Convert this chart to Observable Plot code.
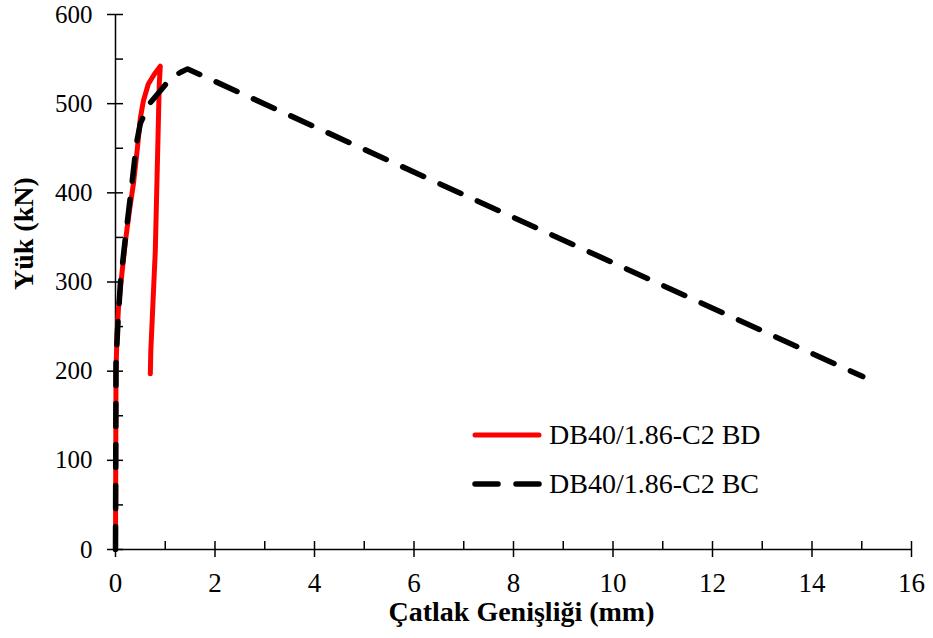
<!DOCTYPE html>
<html>
<head>
<meta charset="utf-8">
<script src="https://cdn.jsdelivr.net/npm/d3@7"></script>
<script src="https://cdn.jsdelivr.net/npm/@observablehq/plot@0.6"></script>
<style>
  html, body { margin: 0; padding: 0; background: #fff; }
  #wrap { position: relative; width: 933px; height: 638px; font-family: 'Liberation Serif', 'Times New Roman', serif; }
  #legend { position: absolute; left: 472px; top: 420px; font-size: 28px; color: #000; line-height: 1; }
  .row { display: flex; align-items: center; height: 30px; margin-bottom: 19px; }
  .row svg { width: 70px; height: 12px; margin-right: 7px; }
</style>
</head>
<body>
<div id="wrap"><div id="legend"></div></div>
<script>
// Series names and colours
const seriesNames = ["DB40/1.86-C2 BD", "DB40/1.86-C2 BC"];
const seriesColors = ["#ff0000", "#000000"];

// Crack width (mm) and load (kN) for each series
const bdWidth = [0, 0.005, 0.01, 0.03, 0.06, 0.13, 0.2, 0.28, 0.36, 0.44, 0.5, 0.56, 0.66, 0.78, 0.9, 0.88, 0.8, 0.71, 0.70];
const bdLoad  = [0, 100, 200, 240, 271, 310, 346, 380, 410, 450, 484, 503, 522, 533, 542, 522, 335, 223, 197];

const bcWidth = [0, 0.01, 0.05, 0.1, 0.2, 0.33, 0.42, 0.5, 0.6, 0.7, 0.94, 1.1, 1.3, 1.45, 15.02];
const bcLoad  = [0, 210, 255, 300, 350, 410, 455, 478, 490, 501, 517, 528, 535, 539, 194];

// Axis ticks and labels
const xMajor = [0, 2, 4, 6, 8, 10, 12, 14, 16];
const xMinor = d3.range(0, 17, 1);
const yMajor = [0, 100, 200, 300, 400, 500, 600];
const yMinor = d3.range(0, 601, 50);
const xTitle = "Çatlak Genişliği (mm)";
const yTitle = "Yük (kN)";

const bd = bdWidth.map((w, i) => ({w, p: bdLoad[i]}));
const bc = bcWidth.map((w, i) => ({w, p: bcLoad[i]}));

const chart = Plot.plot({
  width: 933,
  height: 638,
  marginLeft: 115,
  marginRight: 22,
  marginTop: 14,
  marginBottom: 89,
  style: {fontFamily: "'Liberation Serif', 'Times New Roman', serif", color: "#000", background: "#fff", overflow: "visible"},
  x: {domain: [0, 16]},
  y: {domain: [0, 600]},
  marks: [
    Plot.axisX(xMinor, {tickSize: -8, tickFormat: () => "", strokeWidth: 1.5, label: null}),
    Plot.axisX(xMajor, {tickSize: 8, tickPadding: 15, fontSize: 27, strokeWidth: 1.5, label: null}),
    Plot.axisY(yMinor, {tickSize: -8, tickFormat: () => "", strokeWidth: 1.5, label: null}),
    Plot.axisY(yMajor, {tickSize: 8, tickPadding: 15, fontSize: 25, strokeWidth: 1.5, label: null}),
    Plot.ruleY([0], {stroke: "#000", strokeWidth: 1.5}),
    Plot.ruleX([0], {stroke: "#000", strokeWidth: 1.5}),
    Plot.line(bd, {x: "w", y: "p", stroke: seriesColors[0], strokeWidth: 5, strokeLinecap: "round", strokeLinejoin: "round"}),
    Plot.line(bc, {x: "w", y: "p", stroke: seriesColors[1], strokeWidth: 5.5, strokeLinecap: "round", strokeLinejoin: "round", strokeDasharray: "23,18"}),
    Plot.text([xTitle], {frameAnchor: "bottom", dy: 71, dx: 8, fontSize: 28, fontWeight: "bold", fill: "#000"}),
    Plot.text([yTitle], {frameAnchor: "left", rotate: -90, dx: -91, dy: 8, fontSize: 28, fontWeight: "bold", fill: "#000"})
  ]
});
document.getElementById("wrap").prepend(chart);

// Legend
const legend = d3.select("#legend");
seriesNames.forEach((name, i) => {
  const row = legend.append("div").attr("class", "row");
  const s = row.append("svg").attr("viewBox", "0 0 70 12");
  s.append("line").attr("x1", 3).attr("x2", 67).attr("y1", 6).attr("y2", 6)
    .attr("stroke", seriesColors[i]).attr("stroke-width", i === 0 ? 5 : 5.5)
    .attr("stroke-linecap", "round")
    .attr("stroke-dasharray", i === 0 ? null : "23,18");
  row.append("span").text(name);
});
</script>
</body>
</html>
